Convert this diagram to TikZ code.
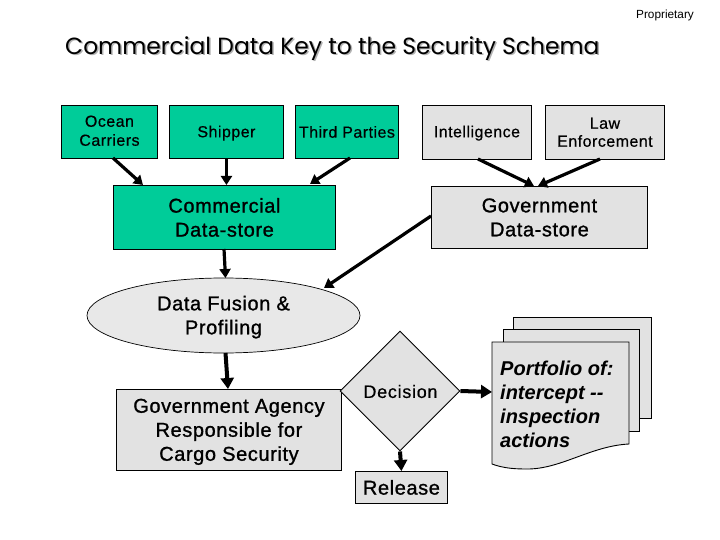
\documentclass[tikz,border=0pt]{standalone}
\usepackage{fontspec}
\setmainfont{Liberation Sans}
\newfontfamily\titlefont{Poppins}
\usetikzlibrary{shapes.geometric,arrows.meta}
\definecolor{grn}{HTML}{00CC99}
\definecolor{dith}{HTML}{E2E2E2}
\definecolor{ell}{HTML}{E8E8E8}
\newcommand{\smallface}{\fontsize{16}{19}\selectfont\addfontfeature{LetterSpace=3,FakeBold=0.5}}
\newcommand{\bigface}{\fontsize{20}{24}\selectfont\addfontfeature{LetterSpace=3,FakeBold=1.1}}
\newcommand{\shiftdown}[2]{\raisebox{0pt}[\dimexpr\height+#1+#1\relax]{\begin{tabular}{@{}c@{}}#2\end{tabular}}}
\tikzset{
  x=1pt,y=-1pt,
  bx/.style={draw=black,line width=0.9pt,align=center,inner sep=0pt,text=black,anchor=north west,font=\smallface},
  gbox/.style={bx,fill=grn},
  dbox/.style={bx,fill=dith},
  big/.style={font=\bigface},
  conn/.style={draw=black,line width=3.2pt,-{Triangle[length=9pt,width=11pt]}},
  conb/.style={draw=black,line width=4pt,-{Triangle[length=11pt,width=13pt]}},
  sheet/.style={draw=black,line width=0.9pt,fill=dith},
  titletext/.style={anchor=west,inner sep=0pt,font=\titlefont\fontsize{23.4}{28}\selectfont}
}
\begin{document}
\begin{tikzpicture}
\useasboundingbox (0,0) rectangle (720,540);
\node[anchor=center,font=\fontsize{11.8}{14}\selectfont] (prop) at (665,15) {Proprietary};
\node[titletext,text=black!30] (titleshadow) at (66.5,50) {Commercial Data Key to the Security Schema};
\node[titletext] (title) at (65,48.5) {Commercial Data Key to the Security Schema};

\node[gbox,minimum width=96pt,minimum height=53pt] (ocean) at (61,105) {\shiftdown{0.5pt}{Ocean\\Carriers}};
\node[gbox,minimum width=114pt,minimum height=53pt] (shipper) at (169,105) {\shiftdown{1.5pt}{Shipper}};
\node[gbox,minimum width=103pt,minimum height=53pt] (third) at (295,105) {Third Parties};
\node[dbox,minimum width=109pt,minimum height=54pt] (intel) at (422,105) {\shiftdown{1pt}{Intelligence}};
\node[dbox,minimum width=119pt,minimum height=54pt] (law) at (545,105) {\shiftdown{1.5pt}{Law\\[-1pt]Enforcement}};
\node[gbox,big,minimum width=222pt,minimum height=64pt] (comm) at (113,185) {Commercial\\Data-store};
\node[dbox,big,minimum width=216pt,minimum height=62pt] (gov) at (431,186) {Government\\Data-store};
\node[draw=black,line width=0.7pt,fill=ell,ellipse,inner sep=0pt,minimum width=273pt,minimum height=75pt,align=center,big] (fusion) at (223.5,315.5) {\shiftdown{2pt}{Data Fusion \&\\Profiling}};
\node[dbox,big,minimum width=225pt,minimum height=81pt] (agency) at (116,389) {\shiftdown{2pt}{Government Agency\\Responsible for\\Cargo Security}};
\node[draw=black,line width=0.9pt,fill=dith,diamond,aspect=1,inner sep=0pt,minimum width=120pt,minimum height=120pt] (decision) at (400,391) {};
\node[font=\fontsize{18}{20}\selectfont\addfontfeature{LetterSpace=4,FakeBold=0.5}] (decisiontext) at (400.5,391.5) {Decision};
\node[dbox,big,minimum width=92pt,minimum height=32pt] (release) at (355,471) {Release};

\path[sheet] (513,317) rectangle (651,418);
\path[sheet] (503,329) rectangle (639,431);
\path[sheet] (492,342) -- (629,342) -- (629,444) .. controls (590,446) and (560,470) .. (525,469) .. controls (510,469) and (500,467) .. (492,464) -- cycle;
\coordinate (docleft) at (492,392);
\node[anchor=west,inner sep=0pt,align=left,font=\fontsize{20}{24}\selectfont\bfseries\itshape] (portfolio) at (500,404) {Portfolio of:\\intercept -{}-\\inspection\\actions};

\coordinate (oceanb) at (113,158);
\coordinate (commo) at (143,185);
\draw[conn] (oceanb) -- (commo);
\draw[conn] (shipper.south) -- (shipper.south |- comm.north);
\coordinate (thirdb) at (350,158);
\coordinate (commt) at (310,184);
\draw[conn] (thirdb) -- (commt);
\coordinate (intelb) at (478,159);
\coordinate (govi) at (534,186);
\draw[conn] (intelb) -- (govi);
\coordinate (lawb) at (600,159);
\coordinate (govl) at (538,186);
\draw[conn] (lawb) -- (govl);
\coordinate (commb) at (224,249);
\coordinate (fust) at (225.5,278);
\draw[conn] (commb) -- (fust);
\coordinate (govw) at (431,216);
\coordinate (fusr) at (324,288);
\draw[conn] (govw) -- (fusr);
\coordinate (fusb) at (225.5,353);
\coordinate (agt) at (228,389);
\draw[conb] (fusb) -- (agt);
\draw[conb] (decision.east) -- (docleft);
\draw[conb] (decision.south) -- (release.north);
\end{tikzpicture}
\end{document}
